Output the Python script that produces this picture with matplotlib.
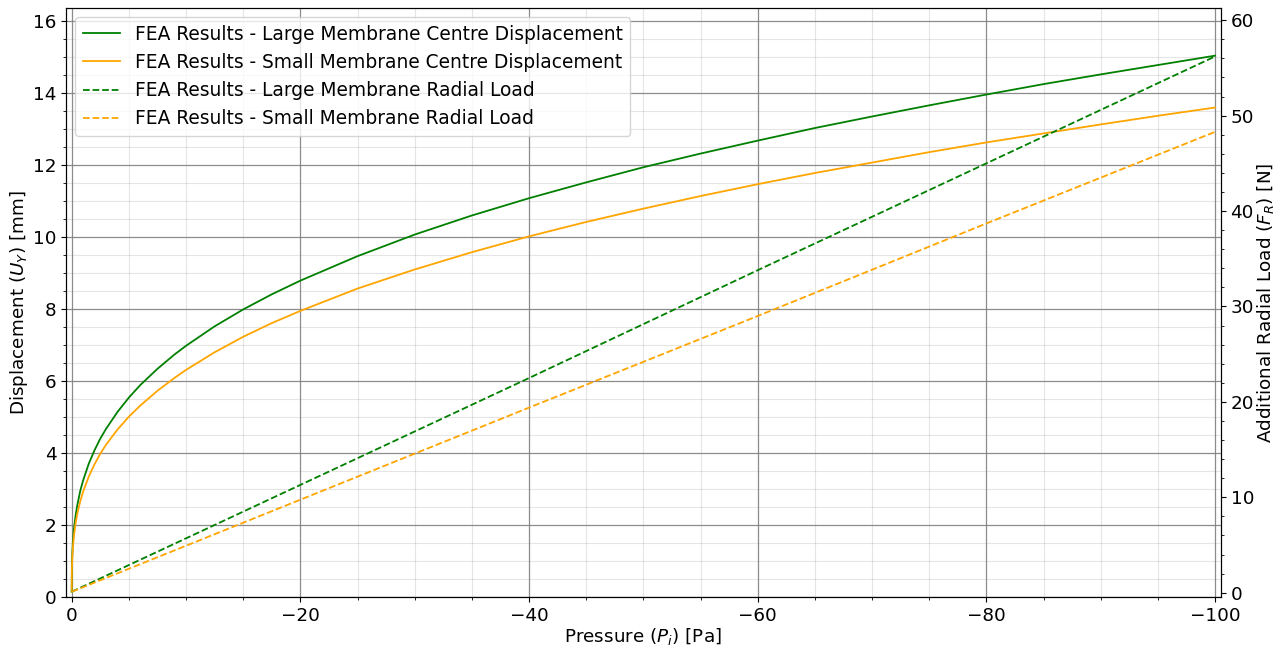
import matplotlib
matplotlib.use("Agg")
import matplotlib.pyplot as plt
from matplotlib.ticker import AutoMinorLocator, MultipleLocator

# Applied pressure [Pa] (negative = suction)
pressure = [0, -0.02, -0.05, -0.1, -0.2, -0.35, -0.5, -0.75, -1, -1.5, -2, -2.5,
            -3, -4, -5, -6, -7.5, -9, -10, -12.5, -15, -17.5, -20,
            -25, -30, -35, -40, -45, -50, -55, -60, -65, -70, -75, -80,
            -85, -90, -95, -100]

# Centre displacement [mm]
disp_large = [0.15, 0.88, 1.19, 1.50, 1.90, 2.28, 2.57, 2.95, 3.24, 3.71, 4.08, 4.40,
              4.67, 5.14, 5.54, 5.89, 6.34, 6.74, 6.98, 7.52, 7.99, 8.41, 8.79,
              9.47, 10.07, 10.60, 11.08, 11.52, 11.94, 12.32, 12.68, 13.03, 13.35, 13.66, 13.96,
              14.25, 14.52, 14.78, 15.04]
disp_small = [0.15, 0.79, 1.08, 1.36, 1.71, 2.07, 2.33, 2.66, 2.93, 3.35, 3.69, 3.98,
              4.23, 4.65, 5.01, 5.32, 5.73, 6.09, 6.31, 6.80, 7.23, 7.61, 7.95,
              8.57, 9.10, 9.58, 10.02, 10.42, 10.79, 11.14, 11.47, 11.78, 12.07, 12.36, 12.63,
              12.88, 13.13, 13.37, 13.60]

# Additional radial load [N]
load_pressure = [0, -20, -40, -60, -80, -100]
load_large = [0.1, 11.3, 22.5, 33.8, 45.0, 56.2]
load_small = [0.1, 9.75, 19.4, 29.0, 38.7, 48.3]

plt.rcParams["font.size"] = 13.2

fig, ax = plt.subplots(figsize=(12.81, 6.5), dpi=100)
fig.subplots_adjust(left=0.0515, right=0.953, bottom=0.0815, top=0.988)

l1, = ax.plot(pressure, disp_large, color="green", lw=1.3,
              label="FEA Results - Large Membrane Centre Displacement")
l2, = ax.plot(pressure, disp_small, color="orange", lw=1.3,
              label="FEA Results - Small Membrane Centre Displacement")

ax.set_xlim(0.5, -100.5)
ax.set_ylim(0, 16.37)
ax.xaxis.set_major_locator(MultipleLocator(20))
ax.xaxis.set_minor_locator(AutoMinorLocator(4))
ax.yaxis.set_major_locator(MultipleLocator(2))
ax.yaxis.set_minor_locator(AutoMinorLocator(4))
ax.grid(which="major", color="gray", linewidth=0.9, alpha=0.9)
ax.grid(which="minor", color="gray", linewidth=0.8, alpha=0.2)
ax.set_xlabel("Pressure ($P_i$) [Pa]", labelpad=1)
ax.set_ylabel("Displacement ($U_Y$) [mm]", labelpad=2)

ax2 = ax.twinx()
l3, = ax2.plot(load_pressure, load_large, color="green", lw=1.3, ls="--",
               label="FEA Results - Large Membrane Radial Load")
l4, = ax2.plot(load_pressure, load_small, color="orange", lw=1.3, ls="--",
               label="FEA Results - Small Membrane Radial Load")
ax2.set_ylim(-0.45, 61.3)
ax2.yaxis.set_major_locator(MultipleLocator(10))
ax2.yaxis.set_minor_locator(AutoMinorLocator(5))
ax2.set_ylabel("Additional Radial Load ($F_R$) [N]", labelpad=1)

ax2.legend(handles=[l1, l2, l3, l4], loc="upper left", fontsize=13.4)

fig.savefig("out.png")
